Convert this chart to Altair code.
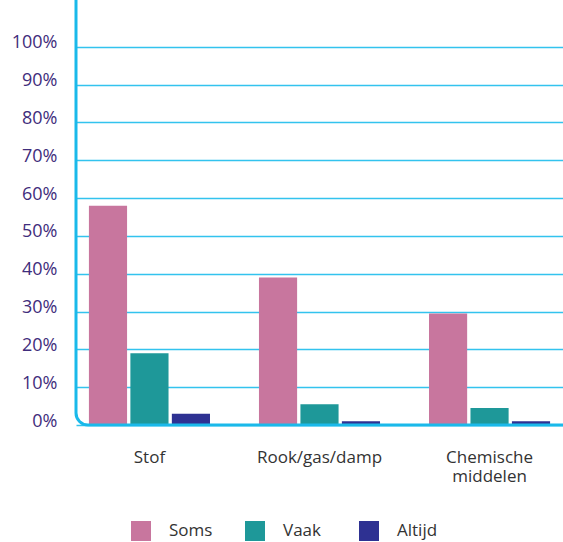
import altair as alt
import pandas as pd

categories = ["Stof", "Rook/gas/damp", "Chemische middelen"]
series = ["Soms", "Vaak", "Altijd"]
soms = [0.58, 0.39, 0.295]
vaak = [0.19, 0.055, 0.045]
altijd = [0.03, 0.01, 0.01]
colors = ["#c8769e", "#1e9899", "#2e3192"]
y_ticks = [0.0, 0.1, 0.2, 0.3, 0.4, 0.5, 0.6, 0.7, 0.8, 0.9, 1.0]

rows = []
for i, c in enumerate(categories):
    for s, vals in zip(series, [soms, vaak, altijd]):
        rows.append({"cat": c, "serie": s, "val": vals[i]})
df = pd.DataFrame(rows)

W, H = 487, 416
FONT = "Open Sans"

bars = alt.Chart(df).mark_bar().encode(
    x=alt.X(
        "cat:N", sort=categories,
        scale=alt.Scale(paddingInner=0.288, paddingOuter=0.076),
        axis=alt.Axis(title=None, labelAngle=0, domain=False, ticks=False,
                      labelPadding=24, labelFont=FONT, labelFontSize=17,
                      labelColor="#333333", labelExpr="split(datum.label, ' ')",
                      labelLineHeight=19),
    ),
    xOffset=alt.XOffset("serie:N", sort=series,
                        scale=alt.Scale(paddingInner=0.08, paddingOuter=0)),
    y=alt.Y(
        "val:Q", scale=alt.Scale(domain=[0, 1.1], nice=False),
        axis=alt.Axis(title=None, values=y_ticks, format=".0%", domain=False,
                      ticks=False, labelPadding=19, labelFont=FONT,
                      labelFontSize=18, labelColor="#3f2d7c", labelOffset=-4,
                      grid=True, gridColor="#33c3ee", gridWidth=1.5),
    ),
    color=alt.Color(
        "serie:N", sort=series,
        scale=alt.Scale(domain=series, range=colors),
        legend=alt.Legend(title=None, orient="none", legendX=55, legendY=512,
                          direction="horizontal", columns=3, gridAlign="all",
                          symbolType="square", symbolSize=400,
                          symbolStrokeWidth=0, labelFont=FONT,
                          labelFontSize=17, labelColor="#333333",
                          labelOffset=18, columnPadding=32, padding=0),
    ),
)

frame = alt.Chart(pd.DataFrame({"a": [0]})).mark_rect(
    fillOpacity=0, stroke="#1ab9ea", strokeWidth=3, cornerRadius=12
).encode(x=alt.value(0), x2=alt.value(W + 60), y=alt.value(-40), y2=alt.value(H))

chart = alt.layer(bars, frame).properties(
    width=W, height=H,
    autosize=alt.AutoSizeParams(type="none"),
    padding={"left": 76, "top": 9, "right": 0, "bottom": 117},
    background="white",
).configure_view(stroke=None)

chart.save("out.html", embed_options={"renderer": "svg", "actions": False})
